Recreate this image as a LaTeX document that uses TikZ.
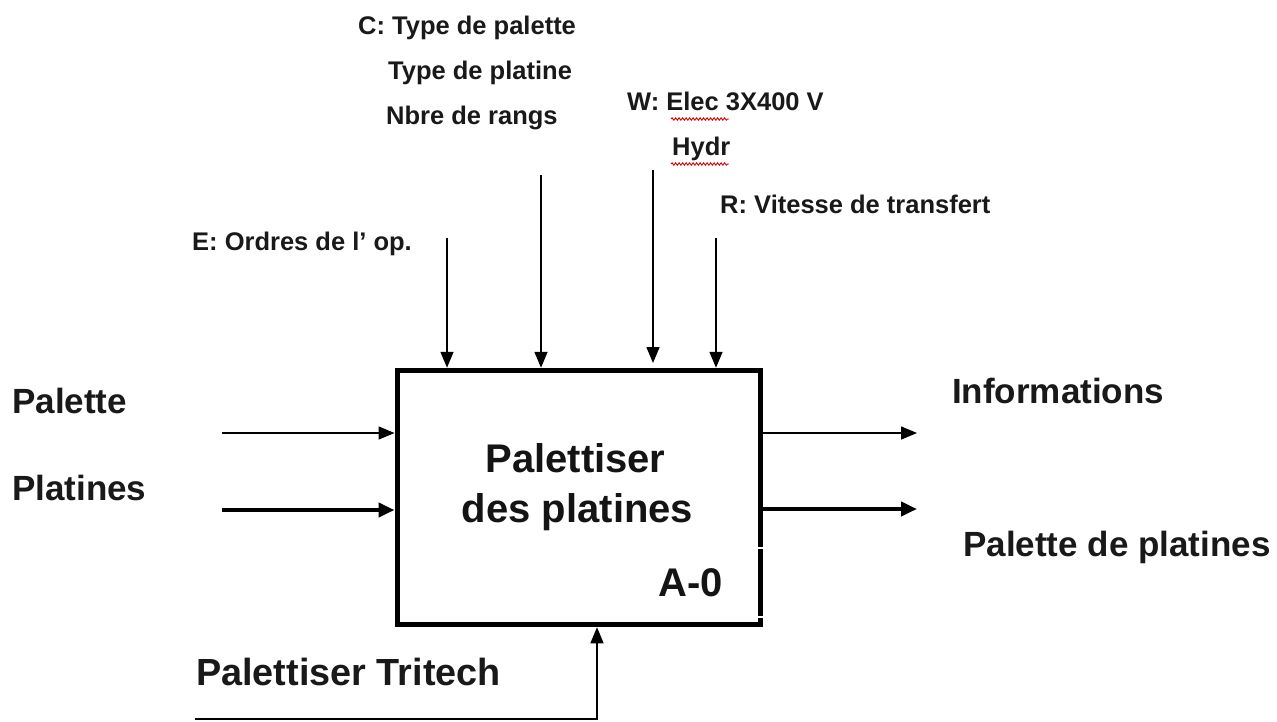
\documentclass[tikz,border=0pt]{standalone}
\usepackage{fontspec}
\setmainfont{Liberation Sans}
\usetikzlibrary{arrows.meta,decorations.pathmorphing}
\begin{document}
\begin{tikzpicture}[x=1pt,y=-1pt,
  lbl/.style={anchor=base west, inner sep=0pt, font=\bfseries\fontsize{25.5}{30}\selectfont, text=black!90},
  big/.style={anchor=base west, inner sep=0pt, font=\bfseries\fontsize{35}{42}\selectfont, text=black!90},
  boxtxt/.style={anchor=base, inner sep=0pt, font=\bfseries\fontsize{40}{48}\selectfont, text=black!92},
  funcbox/.style={draw, line width=5pt, minimum width=363.5pt, minimum height=254.5pt, inner sep=0pt},
  thinarrow/.style={line width=1.5pt, -{Triangle[length=16pt,width=13pt]}},
  thickarrow/.style={line width=4pt, -{Triangle[length=16pt,width=14pt]}},
  squiggle/.style={red!85!black, line width=0.9pt, decorate, decoration={snake, amplitude=1.2pt, segment length=3.5pt}}
]
\useasboundingbox (0,0) rectangle (1277,722);
\fill[white] (0,0) rectangle (1277,722);

% main box
\node[funcbox] (box) at (578.75,497.5) {};
\node[boxtxt] (t1) at (575.5,472) {Palettiser};
\node[boxtxt] (t2) at (577.5,522) {des platines};
\node[boxtxt, anchor=base west] (t3) at (658,596) {A-0};
% small gaps on the right edge
\draw[white, line width=1.4pt] (757,548) -- (764,548);
\draw[white, line width=1.4pt] (757,617) -- (764,617);

% controls / top labels
\node[lbl] (c1) at (358,35) {C: Type de palette};
\node[lbl] (c2) at (388,80) {Type de platine};
\node[lbl] (c3) at (386,125) {Nbre de rangs};
\node[lbl] (w1) at (627,111) {W: Elec 3X400 V};
\node[lbl] (w2) at (672,156) {Hydr};
\node[lbl] (r1) at (720,214) {R: Vitesse de transfert};
\node[lbl] (e1) at (192,251) {E: Ordres de l’ op.};
\draw[squiggle] (671,119) -- (729,119);
\draw[squiggle] (671,164) -- (729,164);

\coordinate (eS) at (447,238);
\coordinate (cS) at (541,175);
\coordinate (wS) at (653,170);
\coordinate (wE) at (653,363);
\coordinate (rS) at (716,238);
\draw[thinarrow] (eS) -- (eS |- box.north);
\draw[thinarrow] (cS) -- (cS |- box.north);
\draw[thinarrow] (wS) -- (wE);
\draw[thinarrow] (rS) -- (rS |- box.north);

% inputs
\node[big] (in1) at (12,413) {Palette};
\node[big] (in2) at (12,500) {Platines};
\coordinate (i1S) at (222,433);
\coordinate (i2S) at (222,510);
\draw[thinarrow] (i1S) -- (i1S -| box.west);
\draw[thickarrow] (i2S) -- (i2S -| box.west);

% outputs
\node[big] (o1) at (952,403) {Informations};
\node[big] (o2) at (963,556) {Palette de platines};
\coordinate (o1E) at (917,433);
\coordinate (o2E) at (917,509);
\draw[thinarrow] (o1E -| box.east) -- (o1E);
\draw[thickarrow] (o2E -| box.east) -- (o2E);

% mechanism
\node[big, font=\bfseries\fontsize{37.8}{45}\selectfont] (m1) at (196,685) {Palettiser Tritech};
\coordinate (mS) at (195,719);
\coordinate (mC) at (597,719);
\draw[thinarrow] (mS) -- (mC) -- (mC |- box.south);
\end{tikzpicture}
\end{document}
